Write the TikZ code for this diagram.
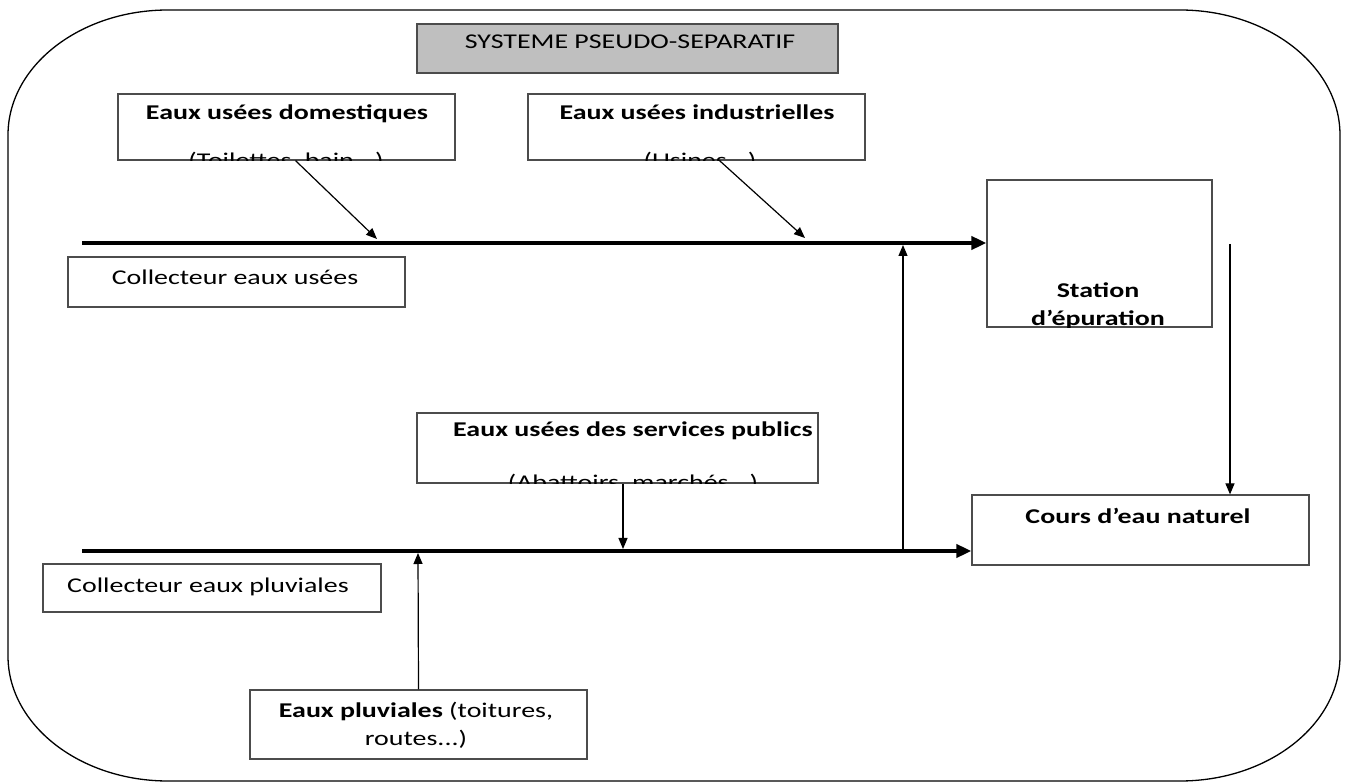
\documentclass[tikz,border=0pt]{standalone}
\usepackage{fontspec}
\setmainfont{Carlito}[FakeStretch=1.33]
\usetikzlibrary{arrows.meta}

\begin{document}
\begin{tikzpicture}[x=1pt, y=-1pt,
    boite/.style={draw=black!70, line width=1.2pt, inner sep=0pt},
    lbl/.style={anchor=base, inner sep=0pt, font=\fontsize{21}{25}\selectfont},
    fleche/.style={line width=1.2pt, -{Triangle[length=11pt,width=9pt]}},
    collecteur/.style={line width=4pt, -{Triangle[length=15pt,width=13pt]}}]

\useasboundingbox (0,0) rectangle (1345,783);

% cadre arrondi
\draw[line width=1.3pt] (8,135) -- (8,656) .. controls (8,725) and (80,781) .. (168,781)
  -- (1180,781) .. controls (1268,781) and (1340,725) .. (1340,656)
  -- (1340,135) .. controls (1340,66) and (1268,10) .. (1180,10)
  -- (168,10) .. controls (80,10) and (8,66) .. cycle;

% boites
\node[boite, fill=black!25, minimum width=421pt, minimum height=49pt] (titre) at (627.5,48.5) {};
\node[boite, minimum width=337pt, minimum height=66pt] (dom) at (286.5,127) {};
\node[boite, minimum width=337pt, minimum height=66pt] (ind) at (696.5,127) {};
\node[boite, minimum width=337pt, minimum height=50pt] (colU) at (236.5,282) {};
\node[boite, minimum width=225pt, minimum height=147pt] (stat) at (1099.5,253.5) {};
\node[boite, minimum width=401pt, minimum height=70pt] (pub) at (617.5,448) {};
\node[boite, minimum width=337pt, minimum height=70pt] (cours) at (1140.5,530) {};
\node[boite, minimum width=338pt, minimum height=48pt] (colP) at (212,588) {};
\node[boite, minimum width=337pt, minimum height=69pt] (pluv) at (418.5,724.5) {};

% textes
\node[lbl] (titreT) at (630,49) {SYSTEME PSEUDO-SEPARATIF};
\node[lbl] (domT) at (287,120) {\bfseries Eaux usées domestiques};
\node[lbl] (indT) at (697,120) {\bfseries Eaux usées industrielles};
\node[lbl] (colUT) at (235,285) {Collecteur eaux usées};
\node[lbl] (statT) at (1098,298) {\bfseries Station};
\node[lbl] (pubT) at (633,437) {\bfseries Eaux usées des services publics};
\node[lbl] (coursT) at (1138,523) {\bfseries Cours d’eau naturel};
\node[lbl] (colPT) at (208,592) {Collecteur eaux pluviales};
\node[lbl] (pluvT) at (416,717) {\textbf{Eaux pluviales} (toitures,};
\node[lbl] (pluvT2) at (416,745) {routes...)};

% lignes coupees par le bord des boites
\begin{scope}
  \clip (dom.south west) rectangle (dom.north east);
  \node[lbl] (domT2) at (286,168) {(Toilettes, bain...)};
\end{scope}
\begin{scope}
  \clip (ind.south west) rectangle (ind.north east);
  \node[lbl] (indT2) at (700,168) {(Usines...)};
\end{scope}
\begin{scope}
  \clip (stat.south west) rectangle (stat.north east);
  \node[lbl] (statT2) at (1098,326) {\bfseries d’épuration};
\end{scope}
\begin{scope}
  \clip (pub.south west) rectangle (pub.north east);
  \node[lbl] (pubT2) at (633,490) {(Abattoirs, marchés...)};
\end{scope}

% collecteurs
\coordinate (u0) at (82,243);
\coordinate (p0) at (82,551);
\draw[collecteur] (u0) -- (u0 -| stat.west);
\draw[collecteur] (p0) -- (p0 -| cours.west);

% apports
\coordinate (d1) at (377,239);
\coordinate (i1) at (805,238);
\coordinate (b1) at (623,549);
\coordinate (b2) at (418,553);
\coordinate (v0) at (903,549);
\coordinate (v1) at (903,245);
\coordinate (s1) at (1230,244);

\draw[fleche] ([xshift=9pt]dom.south) -- (d1);
\draw[fleche] ([xshift=23pt]ind.south) -- (i1);
\draw[fleche] ([xshift=5.5pt]pub.south) -- (b1);
\draw[fleche] (pluv.north) -- (b2);
\draw[fleche] (v0) -- (v1);
\draw[fleche] (s1) -- (s1 |- cours.north);
\end{tikzpicture}
\end{document}
